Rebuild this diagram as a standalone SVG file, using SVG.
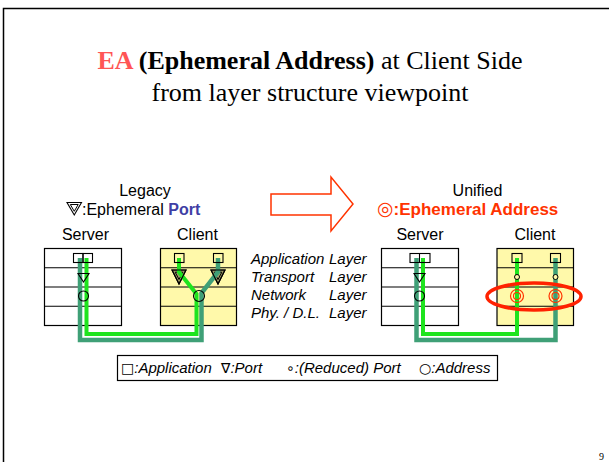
<svg xmlns="http://www.w3.org/2000/svg" width="609" height="462" viewBox="0 0 609 462">
  <style>
    .sans { font-family: "Liberation Sans", Arial, "DejaVu Sans", sans-serif; }
    .serif { font-family: "Liberation Serif", "Times New Roman", serif; }
    .hdr { font-size: 16px; fill: #000; }
    .layer { font-size: 15px; font-style: italic; fill: #000; }
    .legend { font-size: 15px; font-style: italic; fill: #000; }
    .glyph { font-family: "DejaVu Sans", sans-serif; font-style: normal; }
    .box { stroke: #000; stroke-width: 1.2; }
    .row { stroke: #000; stroke-width: 1.2; }
    .sym { fill: none; stroke: #000; stroke-width: 1.1; }
    .teal { fill: none; stroke: #3fa077; stroke-width: 4.5; }
    .green { fill: none; stroke: #1ee41e; stroke-width: 4; }
    .ea { fill: none; stroke: #ff3300; stroke-width: 1.2; }
  </style>
  <defs>
    <!-- ephemeral port: double triangle -->
    <g id="dtri">
      <polygon points="-7,0 7,0 0,14" fill="#8c8a5a" fill-opacity="0.85" stroke="#000" stroke-width="1.1"/>
      <polygon points="-3.8,2.2 3.8,2.2 0,9.5" fill="none" stroke="#000" stroke-width="1"/>
    </g>
    <!-- layer stack rows -->
    <g id="rows">
      <line x1="0" y1="19.25" x2="77" y2="19.25" class="row"/>
      <line x1="0" y1="38.5" x2="77" y2="38.5" class="row"/>
      <line x1="0" y1="57.75" x2="77" y2="57.75" class="row"/>
    </g>
  </defs>

  <!-- page frame -->
  <rect x="3.5" y="8.5" width="640" height="480" fill="#fff" stroke="#000" stroke-width="1.5"/>

  <!-- title -->
  <g id="title" class="serif" font-size="26" text-anchor="middle">
    <text x="310" y="69"><tspan font-weight="bold" fill="#ff5555">EA</tspan><tspan font-weight="bold"> (Ephemeral Address)</tspan> at Client Side</text>
    <text x="310" y="101">from layer structure viewpoint</text>
  </g>

  <!-- legacy heading -->
  <g id="legacy-heading" class="sans hdr">
    <text x="145" y="196" text-anchor="middle">Legacy</text>
    <polygon points="67,202.5 81.5,202.5 74.25,215" fill="none" stroke="#000" stroke-width="1.1"/>
    <polygon points="70.3,204.5 78.2,204.5 74.25,211.3" fill="none" stroke="#000" stroke-width="1"/>
    <text x="82" y="215">:Ephemeral <tspan font-weight="bold" fill="#3f3fa5">Port</tspan></text>
    <text x="85.5" y="240" text-anchor="middle">Server</text>
    <text x="197.5" y="240" text-anchor="middle">Client</text>
  </g>

  <!-- transition arrow -->
  <g id="arrow">
    <polygon points="271,194 331,194 331,177 353,204 331,231 331,215 271,215" fill="#fff" stroke="#ff3300" stroke-width="1.5"/>
  </g>

  <!-- unified heading -->
  <g id="unified-heading" class="sans hdr">
    <text x="477.5" y="196" text-anchor="middle">Unified</text>
    <text x="377" y="215" font-size="17" font-weight="bold" fill="#ff3300"><tspan class="glyph" font-size="19" font-weight="normal">◎</tspan>:Ephemeral Address</text>
    <text x="420" y="240" text-anchor="middle">Server</text>
    <text x="535" y="240" text-anchor="middle">Client</text>
  </g>

  <!-- legacy server stack -->
  <g id="legacy-server">
    <rect x="44.5" y="248.5" width="77" height="77" fill="#fff" class="box"/>
    <use href="#rows" x="44.5" y="248.5"/>
  </g>

  <!-- legacy client stack -->
  <g id="legacy-client">
    <rect x="160.5" y="248.5" width="76" height="77" fill="#fff9aa" class="box"/>
    <use href="#rows" x="160" y="248.5"/>
    <use href="#dtri" x="179" y="270"/>
    <use href="#dtri" x="218" y="270"/>
  </g>

  <!-- unified server stack -->
  <g id="unified-server">
    <rect x="381.5" y="248.5" width="77" height="77" fill="#fff" class="box"/>
    <use href="#rows" x="381.5" y="248.5"/>
  </g>

  <!-- unified client stack -->
  <g id="unified-client">
    <rect x="497" y="248.5" width="76.5" height="77" fill="#fff9aa" class="box"/>
    <use href="#rows" x="497" y="248.5"/>
  </g>

  <!-- connections -->
  <g id="connectors">
    <path class="teal" d="M218,258 L218,272 L201.5,293 L201.5,340 L80,340 L80,258"/>
    <path class="green" d="M179,258 L179,272 L196.5,294 L196.5,334 L86.5,334 L86.5,258"/>
    <path class="teal" d="M416.5,258 L416.5,340 L555.5,340 L555.5,258"/>
    <path class="green" d="M423,258 L423,334 L517,334 L517,258"/>
  </g>

  <!-- layer symbols drawn over the paths -->
  <g id="legacy-server-symbols">
    <rect x="73.5" y="253.5" width="9.5" height="9" class="sym"/>
    <rect x="83" y="253.5" width="9.5" height="9" class="sym"/>
    <polygon points="78,273.5 89,273.5 83.5,282" class="sym"/>
    <circle cx="83.5" cy="296" r="5" class="sym"/>
  </g>
  <g id="legacy-client-symbols">
    <rect x="174.5" y="253.5" width="9.5" height="9" class="sym"/>
    <rect x="213.5" y="253.5" width="9.5" height="9" class="sym"/>
    <polygon points="172,270 186,270 179,284" class="sym"/>
    <polygon points="211,270 225,270 218,284" class="sym"/>
    <circle cx="199" cy="296" r="5.5" class="sym"/>
  </g>
  <g id="unified-server-symbols">
    <rect x="410" y="253.5" width="20" height="9" class="sym"/>
    <line x1="419.5" y1="253.5" x2="419.5" y2="262.5" class="sym"/>
    <polygon points="414,273.5 425,273.5 419.5,282" class="sym"/>
    <circle cx="419.5" cy="296" r="5" class="sym"/>
  </g>
  <g id="unified-client-symbols">
    <rect x="512" y="253.5" width="10" height="9" class="sym"/>
    <rect x="550.5" y="253.5" width="10" height="9" class="sym"/>
    <circle cx="517" cy="277" r="2.5" fill="#fff9aa" stroke="#000" stroke-width="1"/>
    <circle cx="555.5" cy="277" r="2.5" fill="#fff9aa" stroke="#000" stroke-width="1"/>
    <circle cx="517" cy="296" r="6.5" class="ea"/>
    <circle cx="517" cy="296" r="3.5" class="ea"/>
    <circle cx="555.5" cy="296" r="6.5" class="ea"/>
    <circle cx="555.5" cy="296" r="3.5" class="ea"/>
    <ellipse cx="534" cy="296.5" rx="47" ry="13.5" fill="none" stroke="#ff2200" stroke-width="3.5"/>
  </g>

  <!-- layer names -->
  <g id="layer-names" class="sans layer">
    <text x="251" y="264">Application</text><text x="329" y="264">Layer</text>
    <text x="251" y="282">Transport</text><text x="329" y="282">Layer</text>
    <text x="251" y="300">Network</text><text x="329" y="300">Layer</text>
    <text x="251" y="318">Phy. / D.L.</text><text x="329" y="318">Layer</text>
  </g>

  <!-- legend -->
  <g id="legend" class="sans legend">
    <rect x="117.5" y="355.5" width="380" height="25" fill="#fff" stroke="#000" stroke-width="1.2"/>
    <text x="121" y="373"><tspan class="glyph" font-size="14">□</tspan>:Application</text>
    <text x="221" y="373"><tspan class="glyph" font-size="14">∇</tspan>:Port</text>
    <text x="286" y="373"><tspan class="glyph" font-size="14">∘</tspan>:(Reduced) Port</text>
    <text x="419" y="373"><tspan class="glyph" font-size="14">○</tspan>:Address</text>
  </g>

  <!-- page number -->
  <text x="599" y="460" class="serif" font-size="10">9</text>
</svg>
